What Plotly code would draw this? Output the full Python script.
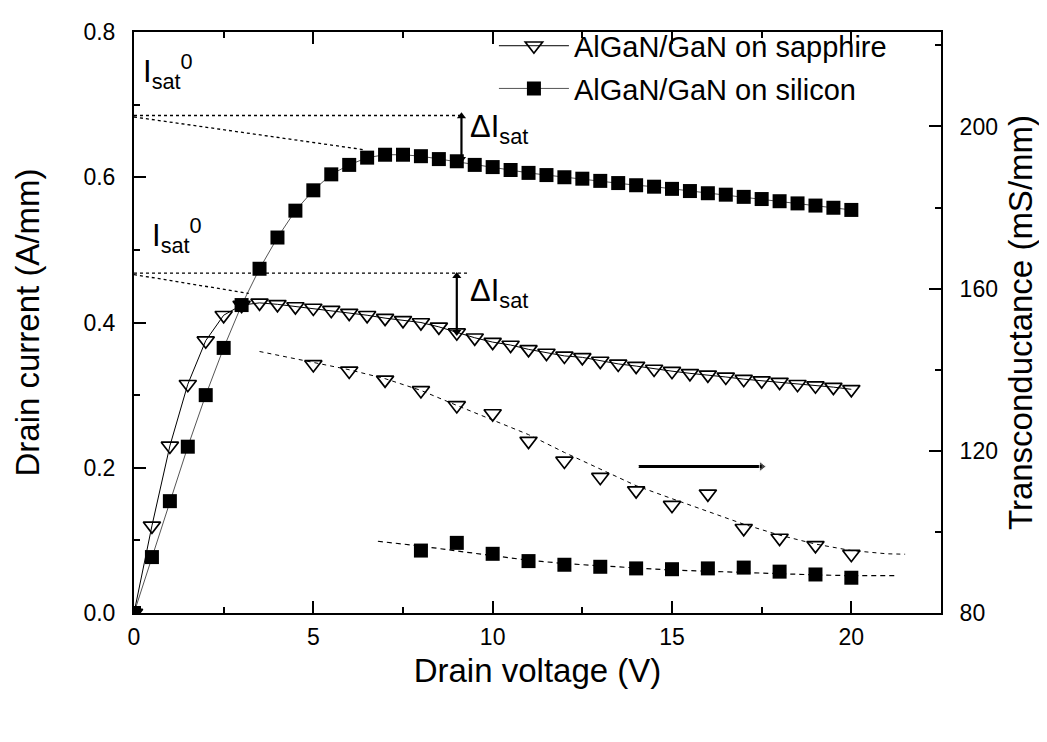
import plotly.graph_objects as go

# ---------------- data ----------------
drain_voltage = [0, 0.5, 1.0, 1.5, 2.0, 2.5, 3.0, 3.5, 4.0, 4.5, 5.0, 5.5, 6.0, 6.5, 7.0, 7.5,
                 8.0, 8.5, 9.0, 9.5, 10.0, 10.5, 11.0, 11.5, 12.0, 12.5, 13.0, 13.5, 14.0, 14.5,
                 15.0, 15.5, 16.0, 16.5, 17.0, 17.5, 18.0, 18.5, 19.0, 19.5, 20.0]

id_sapphire = [0, 0.120, 0.230, 0.315, 0.375, 0.410, 0.424, 0.427, 0.425, 0.422, 0.420, 0.417,
               0.413, 0.410, 0.406, 0.403, 0.400, 0.394, 0.386, 0.379, 0.373, 0.369, 0.363,
               0.358, 0.354, 0.352, 0.347, 0.343, 0.340, 0.336, 0.333, 0.330, 0.328, 0.325,
               0.322, 0.320, 0.318, 0.315, 0.313, 0.311, 0.308]

id_silicon = [0, 0.077, 0.154, 0.229, 0.300, 0.365, 0.424, 0.474, 0.517, 0.554, 0.582, 0.604,
              0.617, 0.627, 0.631, 0.631, 0.629, 0.625, 0.622, 0.617, 0.614, 0.610, 0.606,
              0.603, 0.600, 0.598, 0.595, 0.592, 0.589, 0.587, 0.584, 0.581, 0.578, 0.576,
              0.573, 0.570, 0.567, 0.564, 0.561, 0.558, 0.555]

gm_sapphire_v = [5, 6, 7, 8, 9, 10, 11, 12, 13, 14, 15, 16, 17, 18, 19, 20]
gm_sapphire = [141.3, 139.7, 137.5, 134.9, 131.2, 129.2, 122.4, 117.5, 113.5, 110.2, 106.6,
               109.4, 100.9, 98.5, 96.7, 94.5]

gm_silicon_v = [8, 9, 10, 11, 12, 13, 14, 15, 16, 17, 18, 19, 20]
gm_silicon = [95.4, 97.3, 94.6, 92.8, 91.9, 91.4, 91.0, 90.8, 91.0, 91.2, 90.2, 89.5, 88.7]

# guide curves (dashed) through the transconductance data
gm_sapphire_fit_v = [3.5, 5, 6, 7, 8, 9, 10, 11, 12, 13, 14, 15, 16, 17, 18, 19, 20, 21, 21.5]
gm_sapphire_fit = [144.5, 141.9, 140.0, 137.8, 134.9, 131.2, 127.6, 124.0, 119.6, 115.5, 111.4,
                   108.2, 105.0, 101.9, 99.2, 97.0, 95.4, 94.6, 94.5]
gm_silicon_fit_v = [6.8, 8, 9, 10, 11, 12, 13, 14, 15, 16, 17, 18, 19, 20, 21.2]
gm_silicon_fit = [97.7, 96.5, 95.3, 94.1, 93.0, 92.2, 91.6, 91.1, 90.6, 90.3, 89.9, 89.6, 89.4,
                  89.2, 89.2]

# Isat0 extrapolation guides (dotted)
isat_silicon_h_v = [0, 9.2]
isat_silicon_h = [0.685, 0.685]
isat_silicon_s_v = [0, 6.4]
isat_silicon_s = [0.683, 0.638]
isat_sapphire_h_v = [0, 9.3]
isat_sapphire_h = [0.468, 0.468]
isat_sapphire_s_v = [0, 3.2]
isat_sapphire_s = [0.466, 0.440]

# Delta Isat arrows: V position and current span [low, high]
delta_silicon_v = [9.13, 9.13]
delta_silicon_i = [0.625, 0.684]
delta_sapphire_v = [9.0, 9.0]
delta_sapphire_i = [0.387, 0.464]
# arrow pointing to the right-hand axis
axis_arrow_v = [14.07, 17.5]
axis_arrow_i = [0.2017, 0.2017]

x_ticks = [0, 5, 10, 15, 20]
y_ticks = [0.0, 0.2, 0.4, 0.6, 0.8]
y2_ticks = [80, 120, 160, 200]
y2_minor = [100, 140, 180, 220]

FONT = "Liberation Sans, Arial, sans-serif"

fig = go.Figure()

fig.add_trace(go.Scatter(
    x=drain_voltage, y=id_sapphire, mode="lines+markers", name="AlGaN/GaN on sapphire",
    line=dict(color="black", width=1),
    marker=dict(symbol="triangle-down-open", size=15, color="black", line=dict(width=1.7)),
    legendgroup="a"))
fig.add_trace(go.Scatter(
    x=drain_voltage, y=id_silicon, mode="lines+markers", name="AlGaN/GaN on silicon",
    line=dict(color="#555555", width=1),
    marker=dict(symbol="square", size=14, color="black"),
    legendgroup="b"))

fig.add_trace(go.Scatter(
    x=gm_sapphire_fit_v, y=gm_sapphire_fit, yaxis="y2", mode="lines", showlegend=False,
    line=dict(color="black", width=1, dash="4px,4px")))
fig.add_trace(go.Scatter(
    x=gm_silicon_fit_v, y=gm_silicon_fit, yaxis="y2", mode="lines", showlegend=False,
    line=dict(color="black", width=1.2, dash="5px,4px")))
fig.add_trace(go.Scatter(
    x=gm_sapphire_v, y=gm_sapphire, yaxis="y2", mode="markers", showlegend=False,
    marker=dict(symbol="triangle-down-open", size=15, color="black", line=dict(width=1.7))))
fig.add_trace(go.Scatter(
    x=gm_silicon_v, y=gm_silicon, yaxis="y2", mode="markers", showlegend=False,
    marker=dict(symbol="square", size=14, color="black")))

for vx, vy in [(isat_silicon_h_v, isat_silicon_h), (isat_silicon_s_v, isat_silicon_s),
               (isat_sapphire_h_v, isat_sapphire_h), (isat_sapphire_s_v, isat_sapphire_s)]:
    fig.add_trace(go.Scatter(x=vx, y=vy, mode="lines", showlegend=False,
                             line=dict(color="black", width=1.3, dash="dot")))

# arrows drawn as line traces with triangular heads
for vx, vy in [(delta_silicon_v, delta_silicon_i), (delta_sapphire_v, delta_sapphire_i)]:
    fig.add_trace(go.Scatter(x=vx, y=vy, mode="lines+markers", showlegend=False,
                             line=dict(color="black", width=2.2),
                             marker=dict(symbol=["triangle-down", "triangle-up"], size=8,
                                         color="black")))
fig.add_trace(go.Scatter(x=axis_arrow_v, y=axis_arrow_i, mode="lines+markers", showlegend=False,
                         line=dict(color="black", width=3.2),
                         marker=dict(symbol=["line-ns", "triangle-right"], size=[1, 9],
                                     color="black")))

label_font = dict(family=FONT, size=31, color="black")
annotations = [
    dict(x=0.20, y=0.746, xref="x", yref="y", xanchor="left", yanchor="middle", showarrow=False,
         text="I<sub>sat</sub><sup>0</sup>", font=label_font),
    dict(x=0.44, y=0.520, xref="x", yref="y", xanchor="left", yanchor="middle", showarrow=False,
         text="I<sub>sat</sub><sup>0</sup>", font=label_font),
    dict(x=9.30, y=0.666, xref="x", yref="y", xanchor="left", yanchor="middle", showarrow=False,
         text="ΔI<sub>sat</sub>", font=label_font),
    dict(x=9.30, y=0.441, xref="x", yref="y", xanchor="left", yanchor="middle", showarrow=False,
         text="ΔI<sub>sat</sub>", font=label_font),
]

axis_common = dict(showline=True, linecolor="black", linewidth=2, ticks="inside",
                   tickcolor="black", tickwidth=2, ticklen=12, showgrid=False, zeroline=False,
                   automargin=False,
                   tickfont=dict(family=FONT, size=23, color="black"))

fig.update_layout(
    width=1031, height=726,
    margin=dict(l=126, r=98, t=14, b=121),
    paper_bgcolor="white", plot_bgcolor="white",
    font=dict(family=FONT, color="black"),
    xaxis=dict(range=[0, 22.5], tickvals=x_ticks, mirror="ticks",
               minor=dict(dtick=2.5, tick0=0, ticks="inside", ticklen=6, tickcolor="black",
                          tickwidth=1.5),
               ticklabelstandoff=2,
               title=dict(text="Drain voltage (V)", font=dict(family=FONT, size=33), standoff=10),
               **axis_common),
    yaxis=dict(range=[0, 0.8], tickvals=y_ticks, tickformat=".1f", mirror=True,
               minor=dict(dtick=0.1, tick0=0, ticks="inside", ticklen=6, tickcolor="black",
                          tickwidth=1.5),
               ticklabelstandoff=12,
               title=dict(text="Drain current (A/mm)", font=dict(family=FONT, size=33),
                          standoff=34),
               **axis_common),
    yaxis2=dict(range=[80, 223.3], tickvals=y2_ticks, overlaying="y", side="right",
                minor=dict(tickvals=y2_minor, ticks="inside", ticklen=6,
                           tickcolor="black", tickwidth=1.5),
                ticklabelstandoff=12,
                title=dict(text="Transconductance (mS/mm)", font=dict(family=FONT, size=33),
                           standoff=14),
                **axis_common),
    legend=dict(x=0.446, y=1.02, xanchor="left", yanchor="top", bgcolor="rgba(0,0,0,0)",
                font=dict(family=FONT, size=29, color="black"), itemwidth=70,
                tracegroupgap=2, traceorder="grouped"),
    annotations=annotations,
)

fig.write_html("out.html")
